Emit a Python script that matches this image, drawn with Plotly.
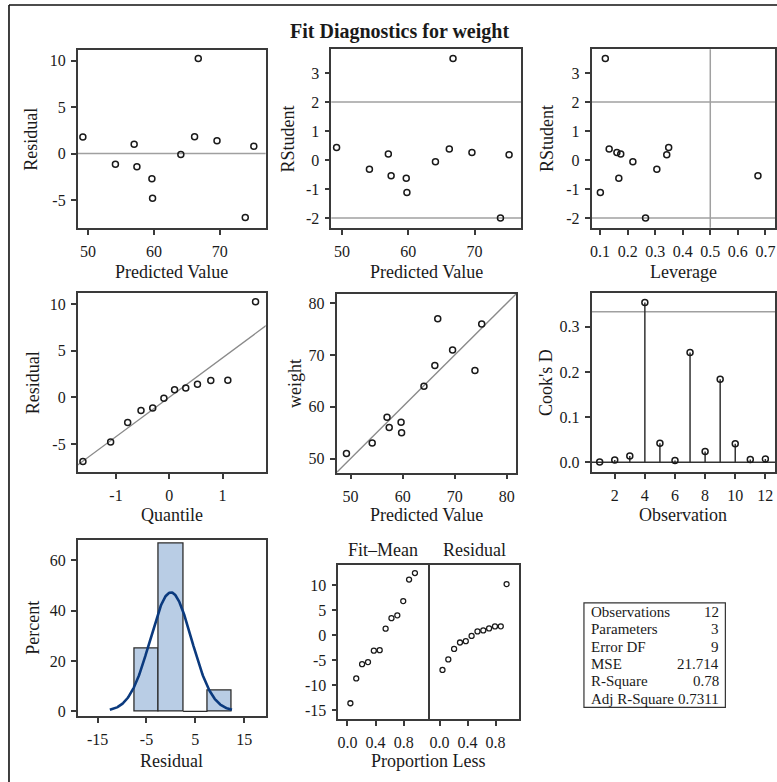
import numpy as np
import plotly.graph_objects as go

# ---- regression output, one entry per observation ----
observation = [1, 2, 3, 4, 5, 6, 7, 8, 9, 10, 11, 12]
weight = [64, 58, 53, 67, 51, 76, 77, 57, 56, 55, 68, 71]
predicted = [64.1, 57.0, 54.15, 73.9, 49.2, 75.2, 66.75, 59.7, 57.42, 59.8, 66.19, 69.6]
rstudent = [-0.06, 0.21, -0.32, -2.00, 0.43, 0.18, 3.50, -0.63, -0.54, -1.12, 0.38, 0.26]
leverage = [0.219, 0.175, 0.306, 0.265, 0.349, 0.342, 0.119, 0.168, 0.673, 0.101, 0.133, 0.161]
cooks_d = [0.0005, 0.005, 0.014, 0.354, 0.042, 0.004, 0.243, 0.024, 0.184, 0.041, 0.006, 0.007]

# normal quantiles and proportion-less positions for the sorted values
normal_quantile = [-1.62, -1.10, -0.78, -0.53, -0.31, -0.10, 0.10, 0.31, 0.53, 0.78, 1.10, 1.62]
proportion_less = [0.042, 0.125, 0.208, 0.292, 0.375, 0.458, 0.542, 0.625, 0.708, 0.792, 0.875, 0.958]

# fit statistics table
stat_labels = ["Observations", "Parameters", "Error DF", "MSE", "R-Square", "Adj R-Square"]
stat_values = ["12", "3", "9", "21.714", "0.78", "0.7311"]

n_obs = len(observation)
n_params = 3

weight_a = np.array(weight, dtype=float)
pred_a = np.array(predicted, dtype=float)
resid_a = weight_a - pred_a
resid_sd = resid_a.std(ddof=1)
resid_mean = resid_a.mean()

W, H = 777, 782
FONT = "Liberation Serif"
INK = "#1a1a1a"
FRAME = "#3a3a3a"
REF = "#a0a0a0"
TICK_SIZE = 16
TITLE_SIZE = 18


def px_x(a, b):
    return [a / W, b / W]


def px_y(top, bottom):
    return [1 - bottom / H, 1 - top / H]


def pxx(x):
    return x / W


def pxy(y):
    return 1 - y / H


# panel boxes in pixels: (left, right, top, bottom)
boxes = {
    1: (76.7, 265.0, 50.0, 229.0),
    2: (330.7, 520.7, 49.5, 229.0),
    3: (591.3, 775.3, 49.5, 229.0),
    4: (76.7, 265.0, 294.3, 474.3),
    5: (336.0, 515.7, 295.5, 475.0),
    6: (591.3, 775.3, 295.0, 474.3),
    7: (76.7, 265.0, 542.3, 720.0),
    8: (337.7, 427.3, 567.7, 722.7),
    9: (430.0, 519.0, 567.7, 722.7),
}

pred_range = [48.4, 77.0]
resid_range = [-8.0, 11.2]
rstud_range = [-2.34, 3.82]
diag_range = [47.3, 81.8]

axis_common = dict(
    showline=True, mirror=True, linecolor=FRAME, linewidth=1.5,
    ticks="outside", ticklen=5, tickwidth=1.5, tickcolor=FRAME,
    showgrid=False, zeroline=False,
    tickfont=dict(family=FONT, size=TICK_SIZE, color=INK),
    fixedrange=True,
)


def ticks(vals, fmt="{:g}"):
    # plain hyphen-minus labels
    return dict(tickmode="array", tickvals=vals, ticktext=[fmt.format(v) for v in vals])


axis_specs = {
    1: (dict(range=pred_range, **ticks([50, 60, 70])),
        dict(range=resid_range, **ticks([-5, 0, 5, 10]))),
    2: (dict(range=pred_range, **ticks([50, 60, 70])),
        dict(range=rstud_range, **ticks([-2, -1, 0, 1, 2, 3]))),
    3: (dict(range=[0.069, 0.736], **ticks([0.1, 0.2, 0.3, 0.4, 0.5, 0.6, 0.7])),
        dict(range=rstud_range, **ticks([-2, -1, 0, 1, 2, 3]))),
    4: (dict(range=[-1.72, 1.81], **ticks([-1, 0, 1])),
        dict(range=resid_range, **ticks([-5, 0, 5, 10]))),
    5: (dict(range=diag_range, **ticks([50, 60, 70, 80])),
        dict(range=diag_range, **ticks([50, 60, 70, 80]))),
    6: (dict(range=[0.46, 12.66], **ticks([2, 4, 6, 8, 10, 12])),
        dict(range=[-0.0213, 0.374], **ticks([0.0, 0.1, 0.2, 0.3], "{:.1f}"))),
    7: (dict(range=[-19.1, 19.4], **ticks([-15, -5, 5, 15])),
        dict(range=[-2.0, 68.2], **ticks([0, 20, 40, 60]))),
    8: (dict(range=[-0.13, 1.14], **ticks([0.0, 0.4, 0.8], "{:.1f}")),
        dict(range=[-16.7, 14.1], **ticks([-15, -10, -5, 0, 5, 10]))),
    9: (dict(range=[-0.13, 1.14], **ticks([0.0, 0.4, 0.8], "{:.1f}")),
        dict(range=[-16.7, 14.1], showticklabels=False, ticks="")),
}

layout = dict(
    width=W, height=H, margin=dict(l=0, r=0, t=0, b=0),
    paper_bgcolor="white", plot_bgcolor="white",
    showlegend=False, font=dict(family=FONT, color=INK),
)

for k, (xs, ys) in axis_specs.items():
    left, right, top, bottom = boxes[k]
    sfx = "" if k == 1 else str(k)
    xa = dict(axis_common)
    xa.update(xs)
    xa.update(domain=px_x(left, right), anchor="y" + sfx, ticklabelstandoff=3)
    ya = dict(axis_common)
    ya.update(ys)
    ya.update(domain=px_y(top, bottom), anchor="x" + sfx, ticklabelstandoff=2)
    layout["xaxis" + sfx] = xa
    layout["yaxis" + sfx] = ya

fig = go.Figure()

open_marker = dict(symbol="circle-open", size=6, color=INK, line=dict(width=1.5))
small_marker = dict(symbol="circle-open", size=5, color=INK, line=dict(width=1.3))


def ax(k):
    return ("x", "y") if k == 1 else ("x" + str(k), "y" + str(k))


# 1: residual vs predicted
fig.add_trace(go.Scatter(x=pred_a, y=resid_a, mode="markers", marker=open_marker,
                         xaxis=ax(1)[0], yaxis=ax(1)[1]))
# 2: rstudent vs predicted
fig.add_trace(go.Scatter(x=pred_a, y=rstudent, mode="markers", marker=open_marker,
                         xaxis=ax(2)[0], yaxis=ax(2)[1]))
# 3: rstudent vs leverage
fig.add_trace(go.Scatter(x=leverage, y=rstudent, mode="markers", marker=open_marker,
                         xaxis=ax(3)[0], yaxis=ax(3)[1]))
# 4: normal quantile plot of residuals with reference line
qq_x = np.array([-2.5, 2.5])
fig.add_trace(go.Scatter(x=qq_x, y=resid_mean + resid_sd * qq_x, mode="lines",
                         line=dict(color="#8a8a8a", width=1.3),
                         xaxis=ax(4)[0], yaxis=ax(4)[1]))
fig.add_trace(go.Scatter(x=normal_quantile, y=np.sort(resid_a), mode="markers",
                         marker=open_marker, xaxis=ax(4)[0], yaxis=ax(4)[1]))
# 5: observed vs predicted with identity line
fig.add_trace(go.Scatter(x=diag_range, y=diag_range, mode="lines",
                         line=dict(color="#8a8a8a", width=1.3),
                         xaxis=ax(5)[0], yaxis=ax(5)[1]))
fig.add_trace(go.Scatter(x=pred_a, y=weight_a, mode="markers", marker=open_marker,
                         xaxis=ax(5)[0], yaxis=ax(5)[1]))
# 6: Cook's D needle plot
fig.add_trace(go.Scatter(
    x=observation, y=cooks_d, mode="markers", marker=open_marker,
    error_y=dict(type="data", symmetric=False, array=[0] * n_obs, arrayminus=cooks_d,
                 width=0, thickness=1.5, color="#333333"),
    xaxis=ax(6)[0], yaxis=ax(6)[1]))

# 7: residual histogram with fitted normal density
bin_start, bin_size, bin_end = -7.5, 5.0, 12.5
fig.add_trace(go.Histogram(
    x=resid_a, histnorm="percent",
    xbins=dict(start=bin_start, end=bin_end, size=bin_size),
    marker=dict(color="#b9cde5", line=dict(color="#2b2b2b", width=1.3)),
    xaxis=ax(7)[0], yaxis=ax(7)[1]))
counts, edges = np.histogram(resid_a, bins=np.arange(bin_start, bin_end + 0.01, bin_size))
for c, lo, hi in zip(counts, edges[:-1], edges[1:]):
    if c == 0:
        fig.add_trace(go.Scatter(x=[lo, hi], y=[0, 0], mode="lines",
                                 line=dict(color="#2b2b2b", width=1.3),
                                 xaxis=ax(7)[0], yaxis=ax(7)[1]))
curve_x = np.linspace(-12.5, 12.5, 241)
curve_y = 100 * bin_size * np.exp(-0.5 * ((curve_x - resid_mean) / resid_sd) ** 2) / (
    resid_sd * np.sqrt(2 * np.pi))
fig.add_trace(go.Scatter(x=curve_x, y=curve_y, mode="lines",
                         line=dict(color="#0b3a7e", width=2.6),
                         xaxis=ax(7)[0], yaxis=ax(7)[1]))

# 8: residual-fit spread plot
fig.add_trace(go.Scatter(x=proportion_less, y=np.sort(pred_a - weight_a.mean()),
                         mode="markers", marker=small_marker,
                         xaxis=ax(8)[0], yaxis=ax(8)[1]))
fig.add_trace(go.Scatter(x=proportion_less, y=np.sort(resid_a),
                         mode="markers", marker=small_marker,
                         xaxis=ax(9)[0], yaxis=ax(9)[1]))

shapes = []


def hline(k, y, color=REF, width=1.5):
    xr, yr = ax(k)
    shapes.append(dict(type="line", xref=xr + " domain", yref=yr, x0=0, x1=1, y0=y, y1=y,
                       line=dict(color=color, width=width), layer="below"))


def vline(k, x, color=REF, width=1.5):
    xr, yr = ax(k)
    shapes.append(dict(type="line", xref=xr, yref=yr + " domain", x0=x, x1=x, y0=0, y1=1,
                       line=dict(color=color, width=width), layer="below"))


hline(1, 0)
hline(2, 2)
hline(2, -2)
hline(3, 2)
hline(3, -2)
vline(3, 2 * n_params / n_obs)
hline(6, 4 / n_obs)
hline(6, 0, color="#333333", width=1.5)

# outer frame (top and left edges)
shapes.append(dict(type="line", xref="paper", yref="paper", x0=pxx(8), x1=1.01,
                   y0=pxy(5), y1=pxy(5), line=dict(color="#111111", width=1.6)))
shapes.append(dict(type="line", xref="paper", yref="paper", x0=pxx(8), x1=pxx(8),
                   y0=pxy(5), y1=-0.01, line=dict(color="#111111", width=1.6)))

# fit statistics box
tbl_left, tbl_right, tbl_top, tbl_bottom = 583.7, 725.3, 606.0, 711.0
shapes.append(dict(type="rect", xref="paper", yref="paper",
                   x0=pxx(tbl_left), x1=pxx(tbl_right), y0=pxy(tbl_bottom), y1=pxy(tbl_top),
                   line=dict(color="#333333", width=1.2)))

annotations = []


def text(x, y, s, size=TITLE_SIZE, angle=0, xanchor="center", bold=False):
    annotations.append(dict(
        x=pxx(x), y=pxy(y), xref="paper", yref="paper", text=("<b>%s</b>" % s) if bold else s,
        showarrow=False, textangle=angle, xanchor=xanchor, yanchor="middle",
        font=dict(family=FONT, size=size, color=INK)))


text(399, 32, "Fit Diagnostics for weight", size=20, bold=True)

# axis titles
text(171, 273, "Predicted Value")
text(425.7, 273, "Predicted Value")
text(683, 273, "Leverage")
text(171, 518, "Quantile")
text(425.8, 518, "Predicted Value")
text(683, 518, "Observation")
text(171, 765, "Residual")
text(428, 765, "Proportion Less")
text(30, 139.5, "Residual", angle=-90)
text(287, 139.5, "RStudent", angle=-90)
text(546, 139.5, "RStudent", angle=-90)
text(32, 384.3, "Residual", angle=-90)
text(295, 385.3, "weight", angle=-90)
text(545, 384.7, "Cook's D", angle=-90)
text(32, 631, "Percent", angle=-90)

# spread plot headers
text((boxes[8][0] + boxes[8][1]) / 2, 552.7, "Fit–Mean")
text((boxes[9][0] + boxes[9][1]) / 2, 552.7, "Residual")

# statistics rows
row_y0, row_step = 615.2, 17.4
for i, (lab, val) in enumerate(zip(stat_labels, stat_values)):
    yy = row_y0 + i * row_step
    text(589, yy, lab, size=15, xanchor="left")
    text(720.5, yy, val, size=15, xanchor="right")

layout["shapes"] = shapes
layout["annotations"] = annotations
fig.update_layout(**layout)

fig.write_html("out.html")
